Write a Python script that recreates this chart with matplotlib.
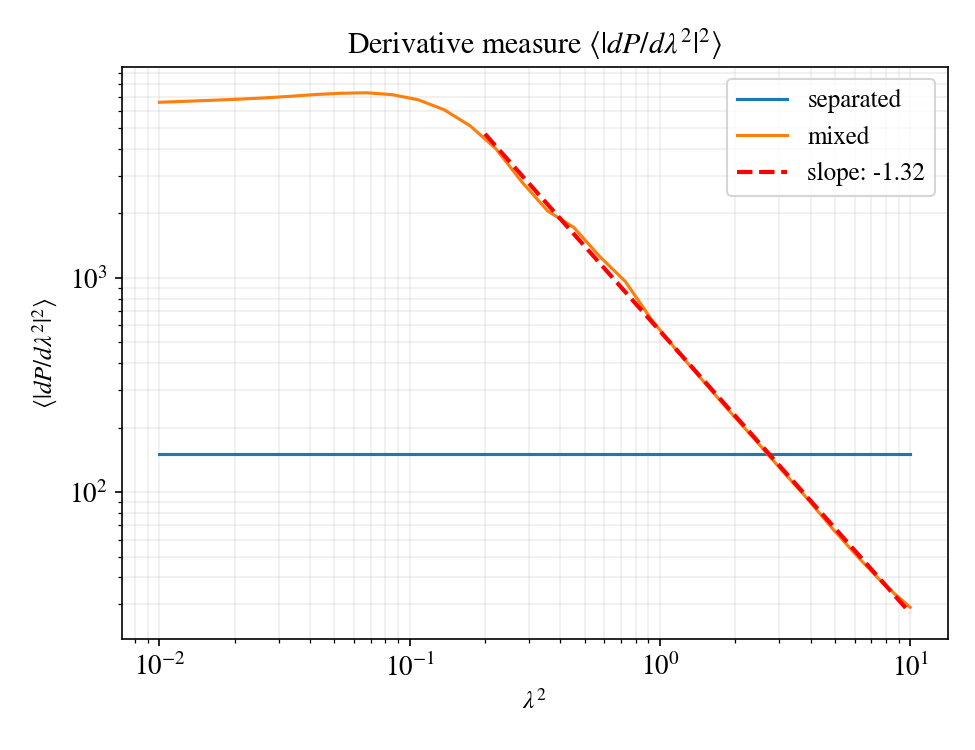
import numpy as np
import matplotlib
matplotlib.use('Agg')
import matplotlib.pyplot as plt

plt.rcParams.update({
    'font.family': 'serif',
    'font.serif': ['STIXGeneral', 'Liberation Serif', 'DejaVu Serif'],
    'mathtext.fontset': 'stix',
    'font.size': 12,
    'xtick.labelsize': 13,
    'ytick.labelsize': 13,
})

# lambda^2 sample points (log-spaced grid)
lam2 = [0.01, 0.01269, 0.01610, 0.02043, 0.02593, 0.03290, 0.04175, 0.05298,
        0.06723, 0.08532, 0.10826, 0.13738, 0.17433, 0.22122, 0.28072, 0.35623,
        0.45204, 0.57362, 0.72790, 0.92367, 1.17210, 1.48735, 1.88739, 2.39503,
        3.03920, 3.85662, 4.89390, 6.21017, 7.88046, 10.0]

separated = [150.0, 150.0, 150.0, 150.0, 150.0, 150.0, 150.0, 150.0, 150.0, 150.0,
             150.0, 150.0, 150.0, 150.0, 150.0, 150.0, 150.0, 150.0, 150.0, 150.0,
             150.0, 150.0, 150.0, 150.0, 150.0, 150.0, 150.0, 150.0, 150.0, 150.0]

mixed = [6590, 6660, 6730, 6810, 6900, 7020, 7160, 7260, 7300, 7150,
         6770, 6080, 5120, 4000, 2800, 2050, 1720, 1260, 960, 640,
         455, 330, 240, 176, 128, 94, 67.5, 49.5, 37.0, 29.0]

fit_lo = 0.2  # power-law fit only over the tail

lam2 = np.array(lam2)
mixed = np.array(mixed, dtype=float)
sel = lam2 >= fit_lo
slope, icpt = np.polyfit(np.log10(lam2[sel]), np.log10(mixed[sel]), 1)
x_fit = np.array([fit_lo, lam2[-1]])
y_fit = 10 ** icpt * x_fit ** slope

fig, ax = plt.subplots(figsize=(6.5, 5), dpi=150)
fig.subplots_adjust(left=0.125, right=0.972, bottom=0.148, top=0.911)
ax.plot(lam2, separated, color='tab:blue', lw=1.5, label='separated')
ax.plot(lam2, mixed, color='tab:orange', lw=1.5, label='mixed')
ax.plot(x_fit, y_fit, color='red', ls='--', lw=2, label=f'slope: {slope:.2f}')

ax.set_xscale('log')
ax.set_yscale('log')
ax.grid(True, which='both', alpha=0.2)
ax.set_xlabel(r'$\lambda^2$')
ax.set_ylabel(r'$\langle|dP/d\lambda^2|^2\rangle$')
ax.set_title(r'Derivative measure $\langle|dP/d\lambda^2|^2\rangle$')
ax.legend(loc='upper right')

fig.savefig('out.png', dpi=150)
